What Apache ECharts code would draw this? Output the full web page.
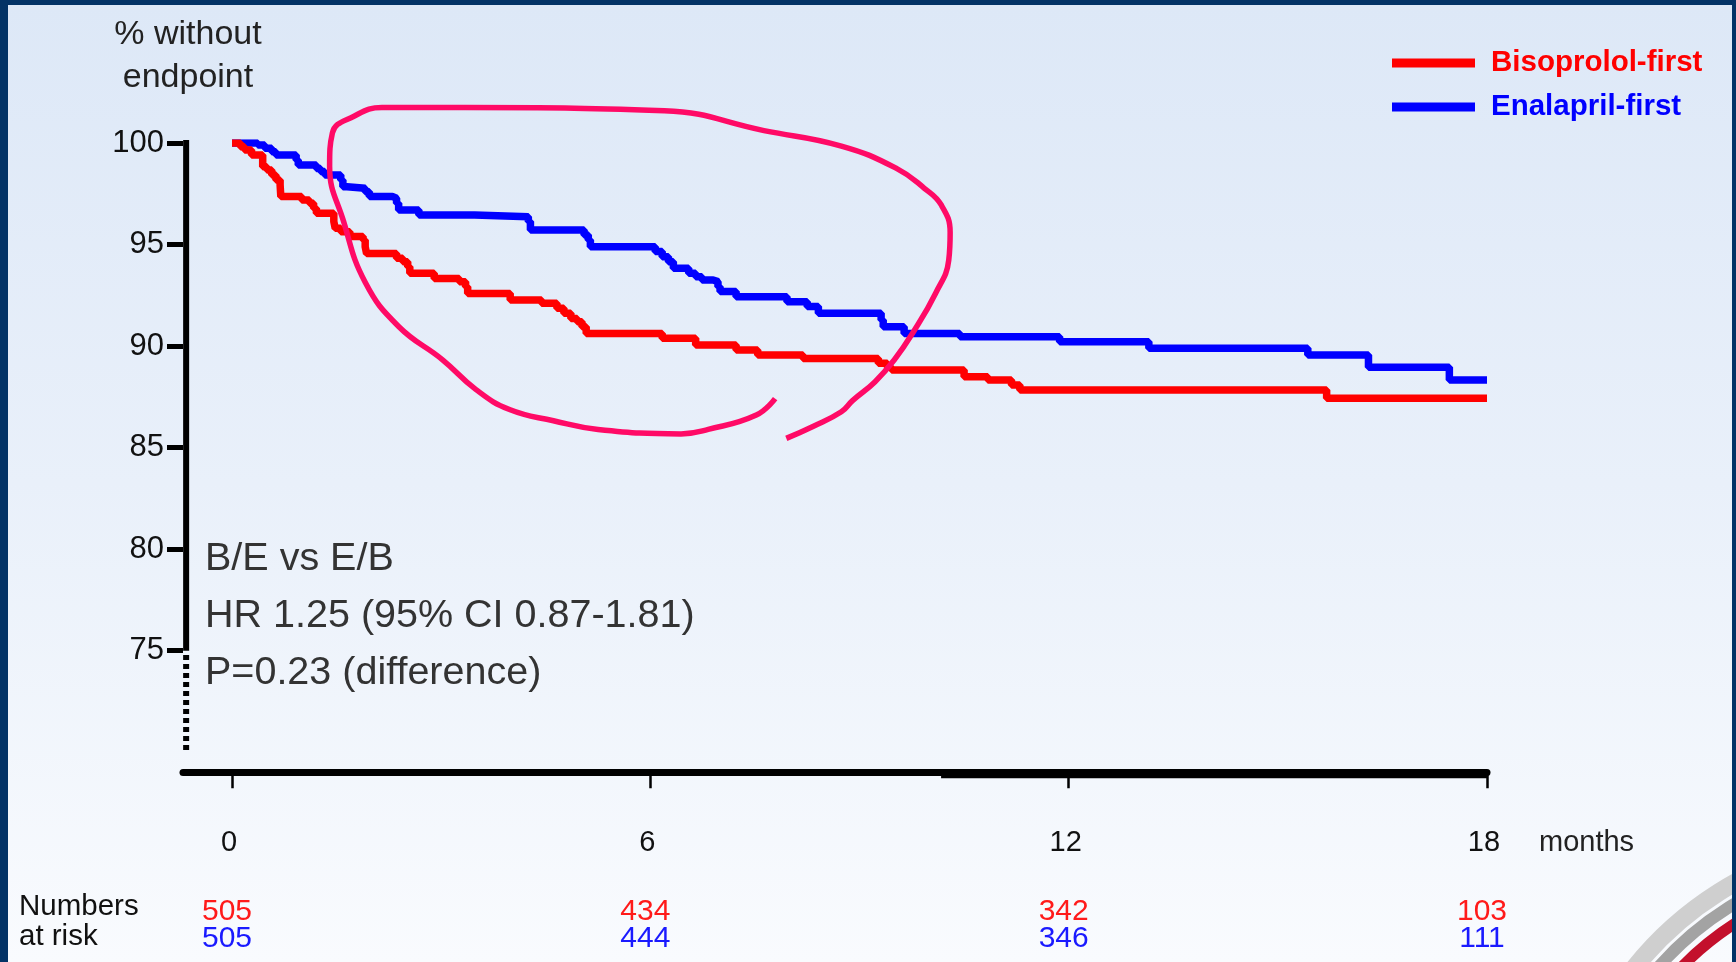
<!DOCTYPE html>
<html>
<head>
<meta charset="utf-8">
<script src="https://cdn.jsdelivr.net/npm/echarts@6/dist/echarts.min.js"></script>
<style>
  html, body { margin: 0; padding: 0; width: 1736px; height: 962px; overflow: hidden; background: #033366; }
  #main { position: absolute; left: 8px; top: 5px; width: 1724px; height: 957px;
          background: linear-gradient(to bottom, #dde8f7 0%, #e9f0fa 50%, #f9fbfe 100%); }
</style>
</head>
<body>
<div id="main"></div>
<script>
// ---- data ----
const months = [0, 6, 12, 18];
const atRiskBisoprolol = [505, 434, 342, 103];
const atRiskEnalapril = [505, 444, 346, 111];
const yTicks = [75, 80, 85, 90, 95, 100];

const bisoprololFirst = [
  [0,100],[0.12,99.82],[0.18,99.66],[0.28,99.41],[0.44,98.83],[0.50,98.67],[0.57,98.42],[0.63,98.18],
  [0.69,97.93],[0.70,97.36],[1.00,97.19],[1.11,97.03],[1.17,96.78],[1.21,96.54],[1.46,96.13],[1.48,95.80],
  [1.56,95.63],[1.69,95.39],[1.88,95.22],[1.91,94.89],[1.93,94.56],[2.36,94.32],[2.45,94.15],[2.52,93.91],
  [2.55,93.58],[2.90,93.33],[3.26,93.17],[3.35,92.92],[3.38,92.59],[3.99,92.27],[4.44,92.10],[4.66,91.86],
  [4.76,91.61],[4.86,91.36],[4.95,91.20],[5.02,90.95],[5.08,90.62],[6.17,90.38],[6.65,90.05],[7.23,89.80],
  [7.54,89.56],[8.19,89.39],[9.27,89.15],[9.40,88.95],[9.46,88.82],[10.50,88.49],[10.84,88.33],[11.18,88.08],
  [11.30,87.83],[15.70,87.42],[18.0,87.42]
];
const enalaprilFirst = [
  [0,100],[0.37,99.90],[0.47,99.74],[0.57,99.57],[0.63,99.41],[0.92,99.16],[0.95,98.92],[1.21,98.75],
  [1.27,98.59],[1.33,98.42],[1.56,98.18],[1.59,97.85],[1.65,97.77],[1.91,97.60],[1.97,97.36],[2.30,97.28],
  [2.36,97.03],[2.39,96.70],[2.68,96.45],[3.48,96.37],[4.25,96.13],[4.28,95.71],[5.05,95.47],[5.11,95.22],
  [5.14,94.89],[6.07,94.65],[6.17,94.40],[6.26,94.15],[6.33,93.83],[6.55,93.58],[6.65,93.41],[6.74,93.25],
  [6.90,93.17],[6.97,92.92],[7.00,92.68],[7.23,92.43],[7.96,92.18],[8.25,91.94],[8.41,91.61],[9.31,91.28],
  [9.34,90.95],[9.64,90.62],[10.44,90.46],[11.87,90.21],[13.15,89.89],[15.43,89.56],[16.30,88.95],[17.46,88.33],
  [18.0,88.33]
];
// hand-drawn highlight loop (in months / % coordinates)
const annotationLoop = [
  [7.79,87.41],[7.52,86.60],[6.83,85.89],[6.44,85.67],[5.25,85.89],[4.61,86.32],[3.98,86.87],[3.50,87.85],
  [3.02,89.32],[2.39,90.96],[1.91,93.14],[1.60,96.14],[1.40,98.86],[1.44,100.50],[1.75,101.32],[2.15,101.75],
  [3.34,101.75],[6.20,101.59],[7.63,100.61],[8.74,99.85],[9.53,98.75],[9.93,97.77],[10.17,96.96],[10.30,95.59],
  [10.28,94.23],[10.09,92.59],[9.77,90.68],[9.50,89.32],[9.22,88.23],[8.90,87.31],[8.74,86.76],[8.34,86.05],[7.95,85.45]
];

const XMIN = -0.703, XMAX = 18, YMIN = 69, YMAX = 100;
const FONT = '"Liberation Sans", Arial, sans-serif';
const YLINE_X = XMIN + 0.045;

const chart = echarts.init(document.getElementById('main'), null, { renderer: 'canvas' });

function riskAxis(values, color, margin) {
  return {
    type: 'value', min: XMIN, max: XMAX, position: 'bottom',
    axisLine: { show: false, onZero: false }, axisTick: { show: false }, splitLine: { show: false },
    axisLabel: {
      customValues: months, margin: margin, fontSize: 30, color: color, fontFamily: FONT,
      padding: [0, 10, 0, 0],
      formatter: v => { const i = months.indexOf(v); return i >= 0 ? String(values[i]) : ''; }
    }
  };
}

const option = {
  animation: false,
  textStyle: { fontFamily: FONT },
  grid: { left: 175, top: 138, width: 1304, height: 629.3 },
  legend: {
    orient: 'vertical', left: 1379, top: 36, itemGap: 10,
    icon: 'rect', itemWidth: 83, itemHeight: 9,
    textStyle: { fontSize: 29.5, fontWeight: 'bold', lineHeight: 34, fontFamily: FONT, padding: [0, 0, 0, 11] },
    data: [
      { name: 'Bisoprolol-first', textStyle: { color: '#ff0000' } },
      { name: 'Enalapril-first', textStyle: { color: '#0000ff' } }
    ]
  },
  xAxis: [
    {
      type: 'value', min: XMIN, max: XMAX, position: 'bottom',
      axisLine: { show: true, onZero: false, lineStyle: { color: '#000', width: 7 } },
      axisTick: { show: true, customValues: months, length: 16, lineStyle: { color: '#000', width: 2.5 } },
      axisLabel: { customValues: months, margin: 56, fontSize: 29, color: '#111', fontFamily: FONT, padding: [0, 6, 0, 0] },
      splitLine: { show: false }
    },
    riskAxis(atRiskBisoprolol, '#ff1a1a', 124),
    riskAxis(atRiskEnalapril, '#1a1aff', 151)
  ],
  yAxis: {
    type: 'value', min: YMIN, max: YMAX,
    axisLine: { show: false, onZero: false },
    axisTick: { show: true, customValues: yTicks, length: 16, lineStyle: { color: '#000', width: 5 } },
    axisLabel: { customValues: yTicks, margin: 19, fontSize: 31, color: '#111', fontFamily: FONT },
    splitLine: { show: false }
  },
  series: [
    { type: 'line', name: 'yaxis-solid', data: [[YLINE_X, 75], [YLINE_X, 100.15]], symbol: 'none', clip: false, silent: true,
      lineStyle: { color: '#000', width: 6 }, z: 3 },
    { type: 'line', name: 'yaxis-dotted', data: [[YLINE_X, 70.1], [YLINE_X, 75]], symbol: 'none', clip: false, silent: true,
      lineStyle: { color: '#000', width: 6, type: [5, 4] }, z: 3 },
    { type: 'line', name: 'xaxis-thick', data: [[10.17, 68.8], [18, 68.8]], symbol: 'none', clip: false, silent: true,
      lineStyle: { color: '#000', width: 4 }, z: 3 },
    { type: 'line', name: 'Enalapril-first', data: enalaprilFirst, step: 'end', symbol: 'none',
      lineStyle: { color: '#0000ff', width: 7.5 }, itemStyle: { color: '#0000ff' }, z: 4 },
    { type: 'line', name: 'Bisoprolol-first', data: bisoprololFirst, step: 'end', symbol: 'none',
      lineStyle: { color: '#ff0000', width: 7.5 }, itemStyle: { color: '#ff0000' }, z: 5 },
    { type: 'line', name: 'highlight', data: annotationLoop, smooth: 0.45, symbol: 'none', clip: false, silent: true,
      lineStyle: { color: '#ff0a66', width: 5.5 }, z: 8 }
  ],
  graphic: [
    { type: 'text', x: 180, y: 8, style: { text: '% without\nendpoint', align: 'center', verticalAlign: 'top',
      font: '34px ' + FONT, lineHeight: 43, fill: '#222' } },
    { type: 'text', x: 197, y: 526, style: { text: 'B/E vs E/B\nHR 1.25 (95% CI 0.87-1.81)\nP=0.23 (difference)',
      verticalAlign: 'top', font: '39.5px ' + FONT, lineHeight: 57, fill: '#333' } },
    { type: 'text', x: 1531, y: 823, style: { text: 'months', verticalAlign: 'top', font: '29px ' + FONT, fill: '#222' } },
    { type: 'text', x: 11, y: 887, style: { text: 'Numbers\nat risk', verticalAlign: 'top', font: '29.5px ' + FONT,
      lineHeight: 30, fill: '#111' } },
    { type: 'arc', shape: { cx: 1892, cy: 1175, r: 340, startAngle: 3.5, endAngle: 4.8 },
      style: { stroke: '#cfcfcf', lineWidth: 18, fill: null } },
    { type: 'arc', shape: { cx: 1892, cy: 1175, r: 322, startAngle: 3.5, endAngle: 4.8 },
      style: { stroke: '#a3a3a3', lineWidth: 12, fill: null } },
    { type: 'arc', shape: { cx: 1892, cy: 1175, r: 305, startAngle: 3.5, endAngle: 4.8 },
      style: { stroke: '#c3102c', lineWidth: 11, fill: null } }
  ]
};
chart.setOption(option);
</script>
</body>
</html>
